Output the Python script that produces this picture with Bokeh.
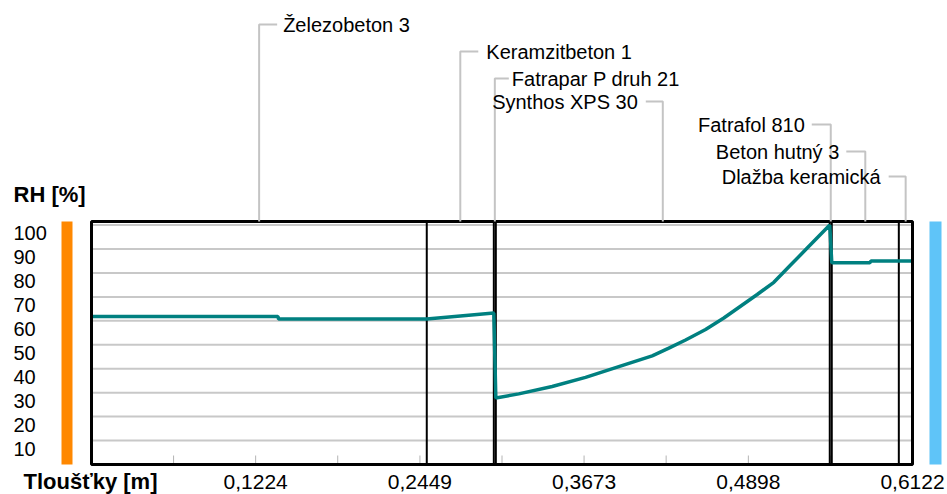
import numpy as np
from bokeh.plotting import figure
from bokeh.models import ColumnDataSource, Range1d
from bokeh.core.properties import value
from bokeh.embed import file_html
from bokeh.resources import INLINE

# Wall / floor composition (from interior to exterior)
layer_names = ["Železobeton 3", "Keramzitbeton 1", "Fatrapar P druh 21", "Synthos XPS 30",
               "Fatrafol 810", "Beton hutný 3", "Dlažba keramická"]
layer_thickness = [0.25, 0.05, 0.0015, 0.249, 0.0015, 0.05, 0.0102]

# Relative humidity profile through the construction [m], [%]
rh_x = [0.0, 0.1390, 0.1395, 0.2500, 0.3000, 0.3015, 0.3186, 0.3435, 0.3684, 0.3932,
        0.4181, 0.4305, 0.4430, 0.4579, 0.4715, 0.4964, 0.5088, 0.5213, 0.5337, 0.5505,
        0.5520, 0.5805, 0.5812, 0.6122]
rh_y = [61.8, 61.8, 60.8, 60.8, 63.3, 27.8, 29.5, 32.6, 36.4, 40.9,
        45.4, 48.6, 52.0, 56.4, 61.2, 71.0, 76.1, 83.3, 90.4, 100.0,
        84.3, 84.3, 85.0, 85.0]

# Axis ticks
x_tick_values = [0.1224, 0.2449, 0.3673, 0.4898, 0.6122]
x_minor_values = [0.0612, 0.1836, 0.3061, 0.4285, 0.5510]
y_tick_values = [10, 20, 30, 40, 50, 60, 70, 80, 90, 100]
y_tick_labels = ["10", "20", "30", "40", "50", "60", "70", "80", "90", "100"]

X_MAX = 0.6122
Y_MAX = 101.5

FONT = "Liberation Sans"
W, H = 947, 494
# chart box in page pixels; the data ranges are extended so the whole page is plot area
BX0, BX1, BY0, BY1 = 91, 912, 221, 464
m_per_px = X_MAX / (BX1 - BX0)
u_per_px = Y_MAX / (BY1 - BY0)


def xd(px):
    return (px - BX0) * m_per_px


def yd(py):
    return (BY1 - py) * u_per_px


p = figure(width=W, height=H, x_range=Range1d(xd(0), xd(W)), y_range=Range1d(yd(H), yd(0)),
           output_backend="svg", toolbar_location=None, x_axis_location=None,
           y_axis_location=None, min_border=0, title=None)
p.outline_line_color = None
p.background_fill_color = "white"
p.border_fill_color = "white"
p.grid.visible = False

# horizontal grid
p.segment(x0=0, y0=y_tick_values, x1=X_MAX, y1=y_tick_values,
          line_color="#c8c8c8", line_width=2)

# bottom ticks pointing into the chart
all_ticks = sorted(x_tick_values + x_minor_values)
p.segment(x0=all_ticks, y0=0, x1=all_ticks, y1=9 * u_per_px,
          line_color="#b4b4b4", line_width=1)

# layer boundaries
edges = np.cumsum(layer_thickness)
inner_edges = list(edges[:-1])
p.segment(x0=inner_edges, y0=0, x1=inner_edges, y1=Y_MAX, line_color="black", line_width=2)

# relative humidity curve
p.line(rh_x, rh_y, line_color="#008080", line_width=3.5)

# chart box
p.quad(left=0, right=X_MAX, bottom=0, top=Y_MAX, fill_color=None,
       line_color="black", line_width=3)

# interior / exterior side markers
p.quad(left=xd(61), right=xd(72), bottom=0, top=Y_MAX, fill_color="#ff8800",
       line_color=None)
p.quad(left=xd(929), right=xd(941), bottom=0, top=Y_MAX, fill_color="#5fc4f8",
       line_color=None)

# x tick labels
x_tick_text = [f"{v:.4f}".replace(".", ",") for v in x_tick_values]
p.text(x=x_tick_values, y=yd(481), text=x_tick_text, text_align="center",
       text_baseline="middle", text_font=value(FONT), text_font_size="21px",
       text_color="black")

# y tick labels, left aligned at the page edge
p.text(x=xd(13), y=[v - 8 * u_per_px for v in y_tick_values], text=y_tick_labels,
       text_align="left", text_baseline="middle", text_font=value(FONT),
       text_font_size="20px", text_color="black")

# axis titles
p.text(x=xd(13), y=yd(194), text=["RH [%]"], text_align="left", text_baseline="middle",
       text_font=value(FONT), text_font_size="22px", text_font_style="bold",
       text_color="black")
p.text(x=xd(23), y=yd(481), text=["Tloušťky [m]"], text_align="left",
       text_baseline="middle", text_font=value(FONT), text_font_size="22px",
       text_font_style="bold", text_color="black")

# layer name callouts above the chart
row_px = [24, 51, 78, 101, 124, 151, 176]
sides = ["right", "right", "right", "left", "left", "left", "left"]
stub_px = [18, 18, 14, 17, 19, 19, 17]
text_px = [24, 26, 17, 25, 26, 26, 25]
starts = np.concatenate([[0.0], edges[:-1]])
mids = (starts + edges) / 2

lead_xs, lead_ys = [], []
lx, ly, la, lt = [], [], [], []
for name, xm, row, side, stub, off in zip(layer_names, mids, row_px, sides, stub_px, text_px):
    yr = yd(row)
    sgn = 1 if side == "right" else -1
    lead_xs.append([xm, xm, xm + sgn * stub * m_per_px])
    lead_ys.append([Y_MAX, yr, yr])
    lx.append(xm + sgn * off * m_per_px)
    ly.append(yr)
    la.append("left" if side == "right" else "right")
    lt.append(name)

p.multi_line(xs=lead_xs, ys=lead_ys, line_color="#c4c4c4", line_width=2)
lsrc = ColumnDataSource(dict(x=lx, y=ly, text=lt, align=la))
p.text(x="x", y="y", text="text", text_align="align", source=lsrc,
       text_baseline="middle", text_font=value(FONT), text_font_size="20px",
       text_color="black")

open("out.html", "w").write(file_html(p, INLINE))
